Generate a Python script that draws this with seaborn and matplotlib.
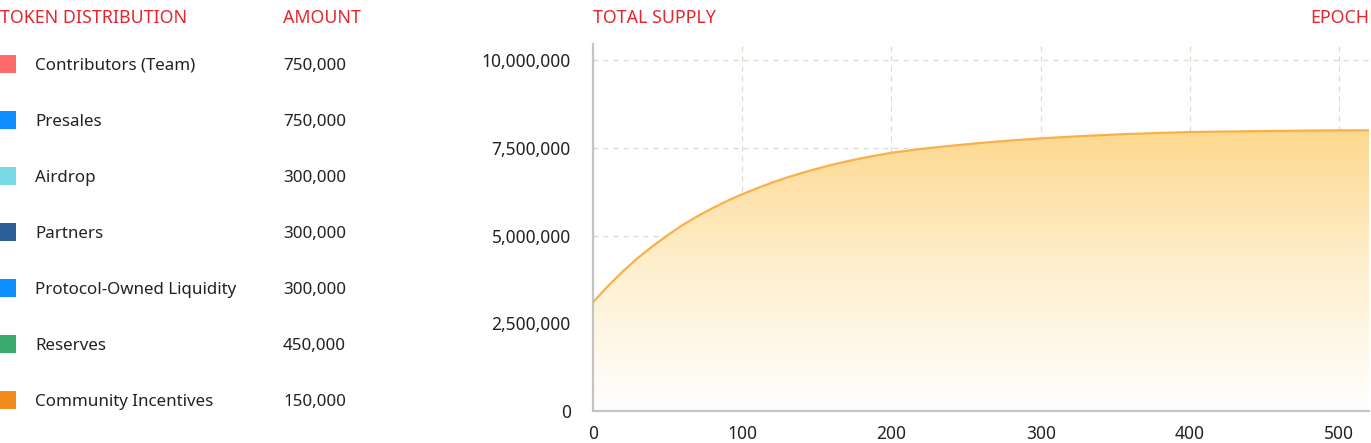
import numpy as np
import pandas as pd
import matplotlib
matplotlib.use("Agg")
import matplotlib.pyplot as plt
import seaborn as sns
from matplotlib.colors import LinearSegmentedColormap
from matplotlib.ticker import FuncFormatter

# distribution table
categories = ["Contributors (Team)", "Presales", "Airdrop", "Partners",
              "Protocol-Owned Liquidity", "Reserves", "Community Incentives"]
amounts = [750000, 750000, 300000, 300000, 300000, 450000, 150000]
cat_colors = ["#ff6b6b", "#0d8eff", "#78d8e3", "#2c5f96",
              "#0d8eff", "#3aa96b", "#f28c1c"]

# total supply curve
epochs = [0, 10, 20, 30, 40, 50, 60, 70, 80, 90, 100, 110, 120, 130, 140, 150,
          160, 170, 180, 190, 200, 220, 240, 260, 280, 300, 325, 350, 375, 400,
          450, 500, 520]
supply = [3.10e6, 3.56e6, 3.98e6, 4.36e6, 4.70e6, 5.01e6, 5.30e6, 5.55e6, 5.78e6,
          5.99e6, 6.18e6, 6.35e6, 6.51e6, 6.655e6, 6.785e6, 6.905e6, 7.015e6, 7.115e6,
          7.205e6, 7.285e6, 7.36e6, 7.47e6, 7.56e6, 7.64e6, 7.71e6, 7.77e6, 7.83e6,
          7.88e6, 7.92e6, 7.95e6, 7.98e6, 8.00e6, 8.00e6]

x_ticks = [0, 100, 200, 300, 400, 500]
y_ticks = [0, 2500000, 5000000, 7500000, 10000000]

RED = "#e5262c"
TXT = "#222222"

sns.set_style("white")
plt.rcParams["font.family"] = ["Noto Sans", "DejaVu Sans"]

fig = plt.figure(figsize=(13.71, 4.43), dpi=100)

# ---- left table (pixel coordinates) ----
tab = fig.add_axes([0, 0, 420 / 1371, 1])
tab.axis("off")

df = pd.DataFrame({"category": categories, "amount": amounts})
df["row"] = 65.5 + 56 * np.arange(len(df))
df["sx"] = 7.5
sns.scatterplot(x=df["sx"], y=df["row"] - 1.5, hue=df["category"], palette=cat_colors,
                marker="s", s=150, linewidth=0, legend=False, ax=tab)
tab.set_xlim(0, 420)
tab.set_ylim(443, 0)
tab.text(0, 18, "TOKEN DISTRIBUTION", color=RED, fontsize=12.8, va="center", ha="left")
tab.text(283, 18, "AMOUNT", color=RED, fontsize=12.8, va="center", ha="left")
for _, r in df.iterrows():
    tab.text(35, r["row"], r["category"], color=TXT, fontsize=12.2, va="center")
    tab.text(283, r["row"], f"{r['amount']:,}", color=TXT, fontsize=12.2, va="center")

# ---- supply chart ----
ax = fig.add_axes([593 / 1371, 1 - 411 / 443, (1369 - 593) / 1371, (411 - 44) / 443])
sdf = pd.DataFrame({"epoch": epochs, "supply": supply})
sns.lineplot(data=sdf, x="epoch", y="supply", color="#f9b04c", linewidth=1.6, ax=ax, zorder=4)

poly = ax.fill_between(sdf["epoch"], 0, sdf["supply"], color="none", linewidth=0)
cmap = LinearSegmentedColormap.from_list("g", ["#ffffff", "#fef0cf", "#fdd88e"])
grad = np.linspace(0, 1, 256).reshape(-1, 1)
im = ax.imshow(grad, cmap=cmap, aspect="auto", origin="lower",
               extent=[0, max(epochs), 0, max(supply)], zorder=2)
im.set_clip_path(poly.get_paths()[0], transform=ax.transData)

ax.set_xlim(0, 520)
ax.set_ylim(0, 10.46e6)
ax.set_xticks(x_ticks)
ax.set_yticks(y_ticks)
ax.yaxis.set_major_formatter(FuncFormatter(lambda v, p: f"{int(v):,}"))
ax.grid(True, linestyle=(0, (4, 4)), color="#ddd8cc", linewidth=0.9, zorder=1)
ax.set_axisbelow(True)
for s in ["top", "right"]:
    ax.spines[s].set_visible(False)
for s in ["left", "bottom"]:
    ax.spines[s].set_color("#c4c4c4")
    ax.spines[s].set_linewidth(1.6)
ax.tick_params(axis="both", length=0, labelsize=12.5, colors=TXT)
ax.tick_params(axis="y", pad=16)
ax.tick_params(axis="x", pad=10)
ax.set_xlabel("")
ax.set_ylabel("")

fig.text(593 / 1371, 1 - 18 / 443, "TOTAL SUPPLY", color=RED, fontsize=12.8, va="center", ha="left")
fig.text(1369 / 1371, 1 - 18 / 443, "EPOCH", color=RED, fontsize=12.8, va="center", ha="right")

fig.savefig("out.png", dpi=100)
